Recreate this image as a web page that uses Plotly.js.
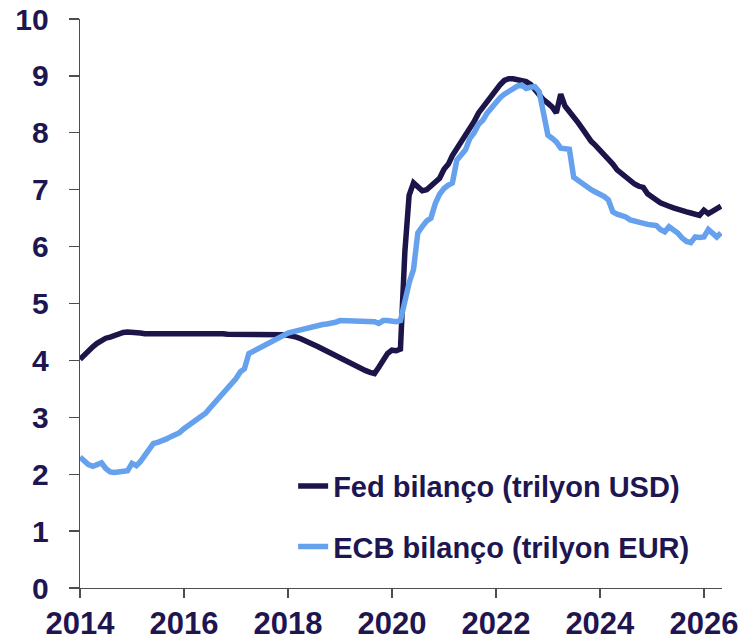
<!DOCTYPE html>
<html>
<head>
<meta charset="utf-8">
<script src="https://cdn.plot.ly/plotly-3.0.1.min.js"></script>
<style>html,body{margin:0;padding:0;background:#fff;}#chart{width:755px;height:642px;}</style>
</head>
<body>
<div id="chart"></div>
<script>
// Monthly observation dates (start of month)
const dates = [
"2014-01-01","2014-02-01","2014-03-01","2014-04-01","2014-05-01","2014-06-01","2014-07-01","2014-08-01","2014-09-01","2014-10-01","2014-11-01","2014-12-01",
"2015-01-01","2015-02-01","2015-03-01","2015-04-01","2015-05-01","2015-06-01","2015-07-01","2015-08-01","2015-09-01","2015-10-01","2015-11-01","2015-12-01",
"2016-01-01","2016-02-01","2016-03-01","2016-04-01","2016-05-01","2016-06-01","2016-07-01","2016-08-01","2016-09-01","2016-10-01","2016-11-01","2016-12-01",
"2017-01-01","2017-02-01","2017-03-01","2017-04-01","2017-05-01","2017-06-01","2017-07-01","2017-08-01","2017-09-01","2017-10-01","2017-11-01","2017-12-01",
"2018-01-01","2018-02-01","2018-03-01","2018-04-01","2018-05-01","2018-06-01","2018-07-01","2018-08-01","2018-09-01","2018-10-01","2018-11-01","2018-12-01",
"2019-01-01","2019-02-01","2019-03-01","2019-04-01","2019-05-01","2019-06-01","2019-07-01","2019-08-01","2019-09-01","2019-10-01","2019-11-01","2019-12-01",
"2020-01-01","2020-02-01","2020-03-01","2020-04-01","2020-05-01","2020-06-01","2020-07-01","2020-08-01","2020-09-01","2020-10-01","2020-11-01","2020-12-01",
"2021-01-01","2021-02-01","2021-03-01","2021-04-01","2021-05-01","2021-06-01","2021-07-01","2021-08-01","2021-09-01","2021-10-01","2021-11-01","2021-12-01",
"2022-01-01","2022-02-01","2022-03-01","2022-04-01","2022-05-01","2022-06-01","2022-07-01","2022-08-01","2022-09-01","2022-10-01","2022-11-01","2022-12-01",
"2023-01-01","2023-02-01","2023-03-01","2023-04-01","2023-05-01","2023-06-01","2023-07-01","2023-08-01","2023-09-01","2023-10-01","2023-11-01","2023-12-01",
"2024-01-01","2024-02-01","2024-03-01","2024-04-01","2024-05-01","2024-06-01","2024-07-01","2024-08-01","2024-09-01","2024-10-01","2024-11-01","2024-12-01",
"2025-01-01","2025-02-01","2025-03-01","2025-04-01","2025-05-01","2025-06-01","2025-07-01","2025-08-01","2025-09-01","2025-10-01","2025-11-01","2025-12-01",
"2026-01-01","2026-02-01","2026-03-01","2026-04-01","2026-05-01"
];

// Fed balance sheet, trillion USD
const fedValues = [
4.02,4.10,4.18,4.24,4.30,4.35,4.39,4.41,4.44,4.47,4.49,4.50,
4.50,4.49,4.48,4.47,4.47,4.48,4.49,4.49,4.48,4.48,4.48,4.49,
4.49,4.49,4.48,4.49,4.48,4.48,4.47,4.47,4.47,4.47,4.46,4.46,
4.46,4.46,4.46,4.47,4.47,4.46,4.46,4.46,4.46,4.46,4.46,4.45,
4.44,4.43,4.41,4.38,4.35,4.31,4.28,4.24,4.20,4.16,4.12,4.08,
4.05,4.02,3.98,3.93,3.90,3.86,3.82,3.79,3.77,3.88,4.02,4.12,
4.18,4.17,4.20,5.90,6.90,7.12,7.05,6.98,7.00,7.07,7.15,7.20,
7.36,7.45,7.60,7.72,7.82,7.95,8.07,8.20,8.35,8.45,8.58,8.68,
8.78,8.85,8.92,8.95,8.95,8.94,8.93,8.90,8.85,8.75,8.67,8.58,
8.52,8.45,8.35,8.68,8.47,8.38,8.28,8.18,8.07,7.95,7.85,7.78,
7.70,7.60,7.52,7.45,7.35,7.28,7.22,7.16,7.10,7.06,7.04,6.93,
6.86,6.82,6.77,6.75,6.71,6.68,6.65,6.63,6.61,6.59,6.57,6.55,
6.64,6.58,6.62,6.66,6.71
];

// ECB balance sheet, trillion EUR
const ecbValues = [
2.30,2.22,2.17,2.14,2.18,2.20,2.10,2.04,2.03,2.04,2.05,2.06,
2.19,2.15,2.22,2.33,2.42,2.54,2.56,2.58,2.62,2.66,2.70,2.73,
2.80,2.86,2.90,2.96,3.02,3.07,3.16,3.25,3.33,3.42,3.50,3.58,
3.68,3.80,3.85,4.12,4.16,4.21,4.25,4.29,4.32,4.36,4.40,4.45,
4.48,4.50,4.52,4.53,4.56,4.58,4.60,4.62,4.63,4.64,4.65,4.67,
4.70,4.70,4.70,4.69,4.69,4.69,4.69,4.68,4.68,4.65,4.70,4.70,
4.69,4.68,4.70,5.05,5.36,5.60,6.24,6.35,6.45,6.50,6.76,6.92,
7.02,7.08,7.12,7.52,7.62,7.70,7.90,8.00,8.15,8.22,8.35,8.45,
8.55,8.62,8.68,8.73,8.79,8.82,8.84,8.78,8.80,8.81,8.72,8.35,
7.96,7.90,7.84,7.73,7.72,7.71,7.22,7.16,7.13,7.05,7.00,6.96,
6.93,6.88,6.82,6.61,6.57,6.55,6.52,6.47,6.45,6.41,6.40,6.39,
6.38,6.37,6.30,6.26,6.35,6.30,6.24,6.15,6.09,6.07,6.17,6.16,
6.17,6.30,6.25,6.17,6.24
];

const seriesNames = ["Fed bilanço (trilyon USD)", "ECB bilanço (trilyon EUR)"];
const yTickVals = [0,1,2,3,4,5,6,7,8,9,10];
const xTickVals = ["2014-01-01","2016-01-01","2018-01-01","2020-01-01","2022-01-01","2024-01-01","2026-01-01"];
const xTickText = ["2014","2016","2018","2020","2022","2024","2026"];

const navy = "#1d1650";
const fam = "Liberation Sans, Arial, sans-serif";

const traces = [
  {x: dates, y: fedValues, name: seriesNames[0], type: "scatter", mode: "lines",
   line: {color: "#1c1549", width: 5.5}, legendgroup: "a"},
  {x: dates, y: ecbValues, name: seriesNames[1], type: "scatter", mode: "lines",
   line: {color: "#66a1ee", width: 5.5}, legendgroup: "b"}
];

const layout = {
  width: 755, height: 642,
  margin: {l: 80, r: 33, t: 19, b: 54, pad: 0},
  paper_bgcolor: "#ffffff", plot_bgcolor: "#ffffff",
  showlegend: true,
  legend: {x: 0.332, y: 0.224, xanchor: "left", yanchor: "top",
           bgcolor: "rgba(0,0,0,0)", traceorder: "grouped", tracegroupgap: 20,
           font: {family: fam, size: 29, weight: "bold", color: navy}},
  xaxis: {type: "date", range: ["2014-01-01", "2026-05-08"],
          tickvals: xTickVals, ticktext: xTickText,
          showgrid: false, zeroline: false, showline: true, linecolor: "#4d4d4d", linewidth: 1.3,
          ticks: "outside", ticklen: 9, tickcolor: "#4d4d4d", tickwidth: 1.3,
          tickfont: {family: fam, size: 31, weight: "bold", color: navy},
          automargin: false, ticklabelstandoff: -2},
  yaxis: {range: [0, 10], tickvals: yTickVals,
          showgrid: false, zeroline: false, showline: true, linecolor: "#4d4d4d", linewidth: 1.3,
          ticks: "outside", ticklen: 10, tickcolor: "#4d4d4d", tickwidth: 1.3,
          tickfont: {family: fam, size: 30, weight: "bold", color: navy},
          automargin: false, ticklabelstandoff: 14}
};

Plotly.newPlot("chart", traces, layout, {displayModeBar: false, staticPlot: true});
</script>
</body>
</html>
